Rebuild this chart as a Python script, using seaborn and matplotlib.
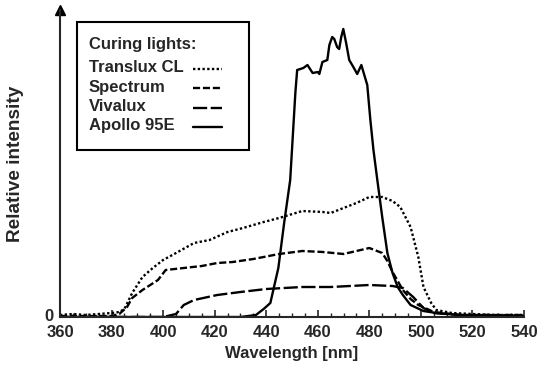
import numpy as np
import pandas as pd
import matplotlib
matplotlib.use("Agg")
import matplotlib.pyplot as plt
import matplotlib.transforms as mtransforms
from matplotlib.lines import Line2D
from matplotlib.patches import Rectangle
import seaborn as sns

# Spectra (arbitrary units, 0 = baseline)
translux_wl = [360, 365, 370, 375, 380, 383, 385, 388, 392, 396, 400, 405, 412, 418, 425, 431,
               439, 445, 454, 462, 465, 470, 475, 480, 485, 489, 492, 496, 499, 501, 504, 506,
               512, 520, 530, 540]
translux_val = [2, 3, 2, 3, 4, 5, 8, 24, 40, 49, 57, 64, 74, 77, 85, 89,
                95, 99, 106, 105, 104, 109, 114, 120, 120, 116, 110, 90, 60, 30, 14, 7,
                4, 3, 2, 2]

spectrum_wl = [360, 380, 383, 386, 388, 392, 398, 401, 408, 415, 421, 427, 435, 445, 454, 462,
               470, 475, 480, 485, 487, 489, 493, 496, 499, 505, 515, 540]
spectrum_val = [1, 1, 3, 10, 19, 27, 37, 47, 49, 51, 54, 55, 58, 63, 66, 65,
                63, 66, 69, 64, 56, 45, 27, 18, 12, 5, 2, 2]

vivalux_wl = [360, 400, 405, 408, 412, 421, 430, 440, 454, 465, 480, 489, 493, 497, 501, 505,
              515, 540]
vivalux_val = [0, 0, 3, 12, 17, 22, 25, 28, 30, 30, 32, 31, 29, 20, 9, 4,
               2, 1]

apollo_wl = [360, 430, 436, 439, 441.6, 444.7, 447, 449.3, 451.3, 452, 454.4, 456, 458, 460,
             460.6, 461.8, 463.7, 464.5, 465.6, 466.4, 467.5, 468.3, 469.1, 469.9, 471, 472.2,
             473.8, 475.3, 476.9, 477.7, 479.2, 480.4, 481.6, 483.1, 485, 487, 489, 491, 493,
             496, 501, 506, 515, 540]
apollo_val = [0, 0, 2, 8, 14, 49, 95, 137, 224, 247, 249, 252, 244, 245,
              243, 255, 257, 272, 280, 278, 270, 268, 280, 288, 274, 257,
              250, 243, 252, 245, 232, 197, 167, 137, 100, 64, 44, 30, 22,
              12, 6, 4, 2, 1]

names = ["Translux CL", "Spectrum", "Vivalux", "Apollo 95E"]
styles = [(0, (1, 1)), (0, (3, 1.2)), (0, (6, 1.5)), "-"]

sns.set_style("ticks")
plt.rcParams["font.family"] = ["Liberation Sans", "DejaVu Sans"]
plt.rcParams["font.weight"] = "bold"
FS = 12

W, H = 544, 365
fig = plt.figure(figsize=(W / 100, H / 100), dpi=100)
ax = fig.add_axes([60 / W, 1 - 317 / H, 464 / W, 307 / H])

series = [(translux_wl, translux_val), (spectrum_wl, spectrum_val),
          (vivalux_wl, vivalux_val), (apollo_wl, apollo_val)]
for (wl, val), name, ls in zip(series, names, styles):
    sns.lineplot(x=wl, y=val, ax=ax, color="black", linewidth=1.7,
                 linestyle=ls, legend=False)

ax.set_xlim(360, 540)
ax.set_ylim(0, 307)
ax.set_xticks(np.arange(360, 541, 20))
ax.set_xticks(np.arange(360, 541, 5), minor=True)
ax.set_yticks([0])
ax.tick_params(axis="x", which="major", direction="in", length=5, width=1.2, labelsize=FS, pad=6)
ax.tick_params(axis="x", which="minor", direction="in", length=3, width=1)
ax.tick_params(axis="y", length=0, labelsize=FS, pad=5)
for lab in ax.get_xticklabels() + ax.get_yticklabels():
    lab.set_fontweight("bold")
# lift the "0" a little so it clears the "360" below it
lift = mtransforms.ScaledTranslation(0, 2 / 100, fig.dpi_scale_trans)
for lab in ax.get_yticklabels():
    lab.set_transform(lab.get_transform() + lift)

sns.despine(ax=ax)
ax.spines["left"].set_linewidth(1.5)
ax.spines["bottom"].set_linewidth(1.5)
ax.plot(0, 1, marker="^", color="black", markersize=7, transform=ax.transAxes, clip_on=False)

ax.set_xlabel("Wavelength [nm]", fontsize=FS, fontweight="bold", labelpad=4)
ax.set_ylabel("Relative intensity", fontsize=13.7, fontweight="bold", labelpad=14)

# legend box drawn by hand: labels left, line samples right
def fx(px):
    return px / W

def fy(py):
    return 1 - py / H

fig.add_artist(Rectangle((fx(77), fy(150)), fx(249) - fx(77), fy(22) - fy(150),
                         transform=fig.transFigure, fill=True, facecolor="white",
                         edgecolor="black", linewidth=1.5))
fig.text(fx(89), fy(44), "Curing lights:", fontsize=FS, fontweight="bold", va="center")
for i, (name, ls) in enumerate(zip(names, styles)):
    y = 68 + i * 19.3
    fig.text(fx(89), fy(y), name, fontsize=FS, fontweight="bold", va="center")
    fig.add_artist(Line2D([fx(193), fx(222)], [fy(y + 1), fy(y + 1)], transform=fig.transFigure,
                          color="black", linewidth=1.7, linestyle=ls))

fig.savefig("out.png", dpi=100)
